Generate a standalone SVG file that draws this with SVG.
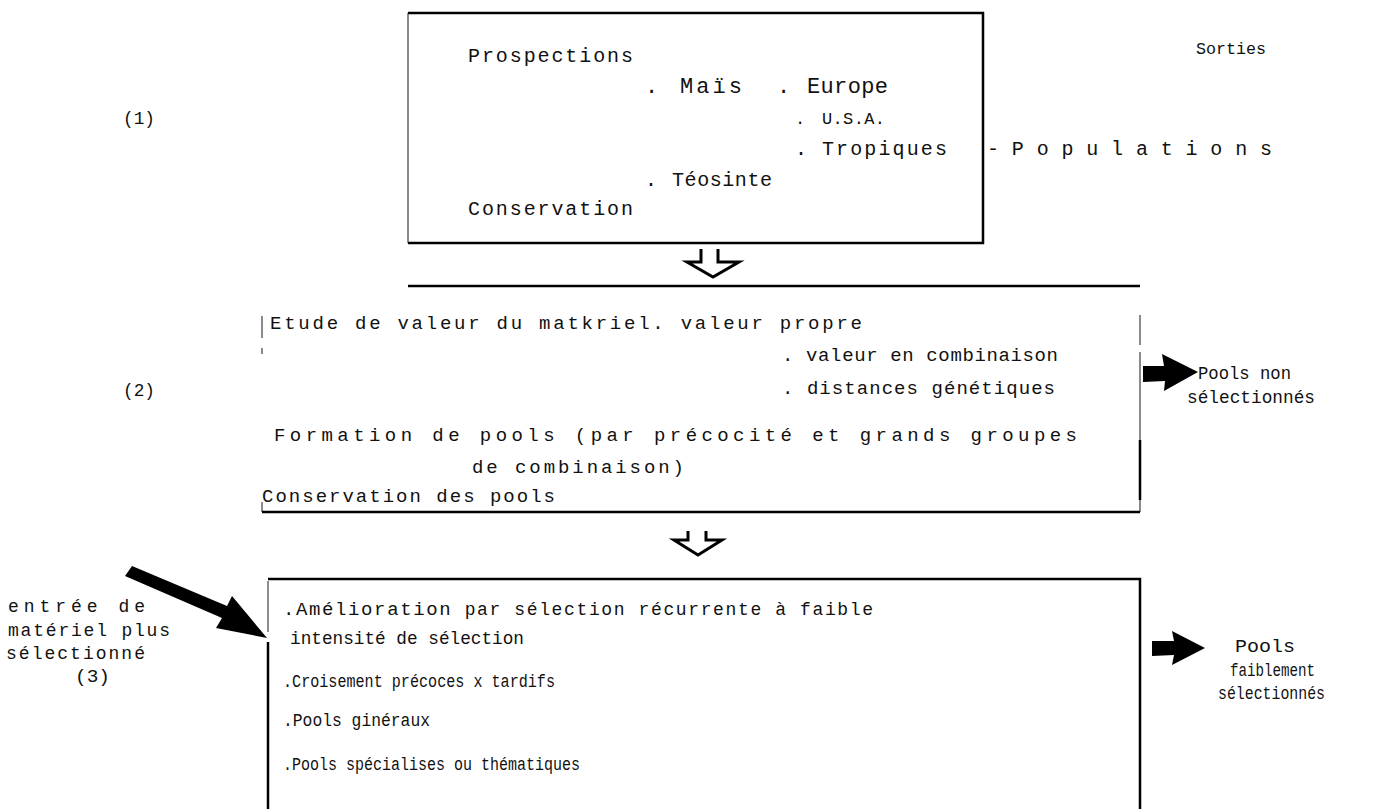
<svg xmlns="http://www.w3.org/2000/svg" width="1381" height="809" viewBox="0 0 1381 809">
<style>
text{font-family:'Liberation Mono','Cousine','DejaVu Sans Mono','Noto Sans Mono',monospace;fill:#111}
.t20{font-size:20px}
.t22{font-size:22px}
.t18{font-size:18px}
.t17{font-size:17px}
.t19{font-size:19px}
.line{stroke:#000;stroke-width:2.5;fill:none}
.thin{stroke:#666;stroke-width:1.5;fill:none}
.hollow{stroke:#000;stroke-width:3;fill:none;stroke-linejoin:miter}
.solid{fill:#000;stroke:none}
</style>
<rect width="1381" height="809" fill="#fff"/>

<g id="labels-left" font-family="Liberation Mono, monospace">
<text class="t18" x="123" y="124" textLength="32" lengthAdjust="spacingAndGlyphs">(1)</text>
<text class="t18" x="123" y="396" textLength="32" lengthAdjust="spacingAndGlyphs">(2)</text>
<text class="t18" x="8" y="612" textLength="137" lengthAdjust="spacing">entrée de</text>
<text class="t18" x="8" y="636" textLength="162" lengthAdjust="spacing">matériel plus</text>
<text class="t18" x="6" y="659" textLength="139" lengthAdjust="spacing">sélectionné</text>
<text class="t18" x="75" y="682" textLength="35" lengthAdjust="spacingAndGlyphs">(3)</text>
</g>

<g id="node-prospections" font-family="Liberation Mono, monospace">
<path class="thin" d="M408,13 V243"/>
<path class="line" d="M408,13 H983 V243 H408"/>
<text class="t20" x="468" y="62" textLength="165" lengthAdjust="spacing">Prospections</text>
<text class="t22" x="645" y="93">.</text>
<text class="t22" x="680" y="93" textLength="62" lengthAdjust="spacing">Maïs</text>
<text class="t22" x="777" y="93">.</text>
<text class="t22" x="807" y="93" textLength="81" lengthAdjust="spacing">Europe</text>
<text class="t17" x="795" y="124">.</text>
<text class="t17" x="822" y="124" textLength="63" lengthAdjust="spacing">U.S.A.</text>
<text class="t20" x="795" y="155">.</text>
<text class="t20" x="822" y="155" textLength="125" lengthAdjust="spacing">Tropiques</text>
<text class="t20" x="645" y="186">.</text>
<text class="t20" x="672" y="186" textLength="100" lengthAdjust="spacing">Téosinte</text>
<text class="t20" x="468" y="215" textLength="165" lengthAdjust="spacing">Conservation</text>
</g>

<g id="node-sorties" font-family="Liberation Mono, monospace">
<text class="t17" x="1196" y="54" textLength="70" lengthAdjust="spacingAndGlyphs">Sorties</text>
<text class="t20" x="987" y="155" textLength="285" lengthAdjust="spacing">-Populations</text>
</g>

<g id="node-etude" font-family="Liberation Mono, monospace">
<path class="line" d="M408,286 H1140"/>
<path class="thin" d="M1140,315 V345 M1140,352 V512 M262,316 V338 M262,348 V354 M262,502 V512"/>
<path class="line" d="M1140,440 V500 M262,512 H1140"/>
<text class="t19" x="270" y="329" textLength="592" lengthAdjust="spacing">Etude de valeur du matkriel. valeur propre</text>
<text class="t19" x="782" y="361" textLength="276" lengthAdjust="spacing">. valeur en combinaison</text>
<text class="t19" x="782" y="394" textLength="273" lengthAdjust="spacing">. distances génétiques</text>
<text class="t19" x="274" y="441" textLength="803" lengthAdjust="spacing">Formation de pools (par précocité et grands groupes</text>
<text class="t19" x="472" y="473" textLength="212" lengthAdjust="spacing">de combinaison)</text>
<text class="t19" x="262" y="502" textLength="293" lengthAdjust="spacing">Conservation des pools</text>
</g>

<g id="node-pools-non" font-family="Liberation Mono, monospace">
<text class="t18" x="1198" y="379" textLength="93" lengthAdjust="spacingAndGlyphs">Pools non</text>
<text class="t18" x="1187" y="403" textLength="128" lengthAdjust="spacingAndGlyphs">sélectionnés</text>
</g>

<g id="node-amelioration" font-family="Liberation Mono, monospace">
<path class="line" d="M268,579 H1140 V809"/>
<path class="thin" d="M268,581 V632"/>
<path class="line" d="M268,642 V809"/>
<text class="t18" x="283" y="615" textLength="590" lengthAdjust="spacing"><tspan font-size="19">.Amélioration</tspan> par sélection récurrente à faible</text>
<text class="t18" x="290" y="644" textLength="234" lengthAdjust="spacingAndGlyphs">intensité de sélection</text>
<text class="t18" x="283" y="687" textLength="272" lengthAdjust="spacingAndGlyphs">.Croisement précoces x tardifs</text>
<text class="t18" x="283" y="726" textLength="147" lengthAdjust="spacingAndGlyphs">.Pools ginéraux</text>
<text class="t18" x="283" y="770" textLength="297" lengthAdjust="spacingAndGlyphs">.Pools spécialises ou thématiques</text>
</g>

<g id="node-pools-faibles" font-family="Liberation Mono, monospace">
<text class="t18" x="1235" y="652" textLength="60" lengthAdjust="spacingAndGlyphs">Pools</text>
<text class="t18" x="1230" y="676" textLength="85" lengthAdjust="spacingAndGlyphs">faiblement</text>
<text class="t18" x="1218" y="699" textLength="107" lengthAdjust="spacingAndGlyphs">sélectionnés</text>
</g>

<g id="connectors">
<path class="hollow" d="M701,249 V262 H687 L713,277 L739,262 H718 V249"/>
<path class="hollow" d="M688,531 V540 H674 L698,555 L722,540 H706 V531"/>
<polygon class="solid" points="1143,366 1164,366 1162,354 1198,372 1164,391 1165,381 1143,382"/>
<polygon class="solid" points="1152,641 1174,641 1172,631 1205,648 1172,665 1174,655 1152,656"/>
<polygon class="solid" points="125,576 132,566 227,606 232,596 267,638 216,628 222,618"/>
</g>
</svg>
